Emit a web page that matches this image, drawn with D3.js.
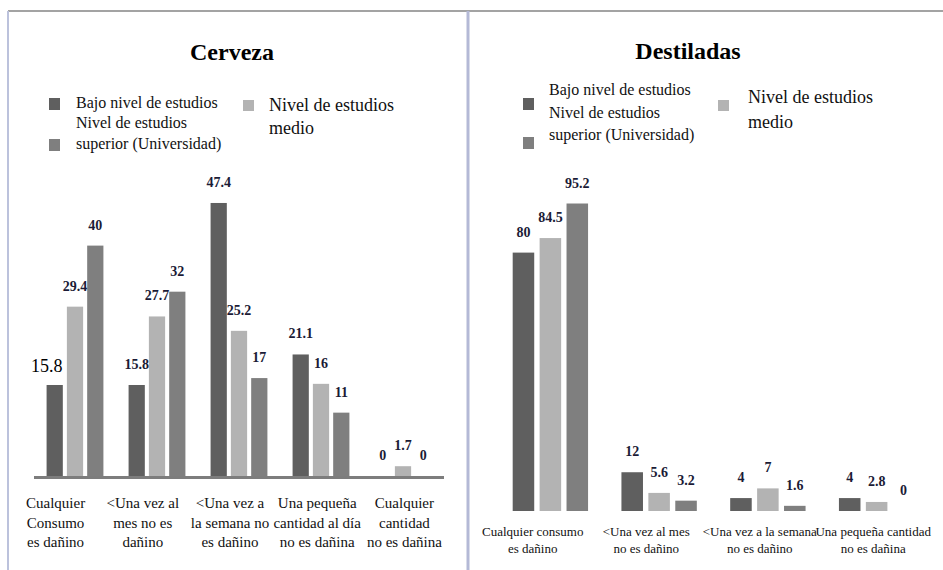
<!DOCTYPE html>
<html>
<head>
<meta charset="utf-8">
<script src="https://cdn.jsdelivr.net/npm/d3@7"></script>
<style>
  html, body { margin: 0; padding: 0; background: #ffffff; }
  svg { display: block; }
  svg text { font-family: "Liberation Serif", "Tinos", "Times New Roman"; }
</style>
</head>
<body>
<svg id="chart" width="943" height="570"></svg>
<script>
// ---------- DATA ----------
const seriesNames = ["Bajo nivel de estudios", "Nivel de estudios medio", "Nivel de estudios superior (Universidad)"];
const seriesColors = ["#5f5f5f", "#b3b3b3", "#7f7f7f"];

const cervezaCategories = [
  ["Cualquier", "Consumo", "es dañino"],
  ["<Una vez al", "mes no es", "dañino"],
  ["<Una vez a", "la semana no", "es dañino"],
  ["Una pequeña", "cantidad al día", "no es dañina"],
  ["Cualquier", "cantidad", "no es dañina"]
];
const cervezaBajo = [15.8, 15.8, 47.4, 21.1, 0];
const cervezaMedio = [29.4, 27.7, 25.2, 16, 1.7];
const cervezaSuperior = [40, 32, 17, 11, 0];

const destiladasCategories = [
  ["Cualquier consumo", "es dañino"],
  ["<Una vez al mes", "no es dañino"],
  ["<Una vez a la semana", "no es dañino"],
  ["Una pequeña cantidad", "no es dañina"]
];
const destiladasBajo = [80, 12, 4, 4];
const destiladasMedio = [84.5, 5.6, 7, 2.8];
const destiladasSuperior = [95.2, 3.2, 1.6, 0];

const legendLeftLines = ["Bajo nivel de estudios", "Nivel de estudios", "superior (Universidad)"];
const legendRightLines = ["Nivel de estudios", "medio"];

// ---------- DRAW ----------
const svg = d3.select("#chart");
const SERIF = '"Liberation Serif", "Tinos", "Times New Roman"';

// panel frame
svg.append("line").attr("x1", 8).attr("x2", 943).attr("y1", 11).attr("y2", 11)
  .attr("stroke", "#a3a3a3").attr("stroke-width", 2);
svg.append("line").attr("x1", 8).attr("x2", 8).attr("y1", 11).attr("y2", 570)
  .attr("stroke", "#bcc2dc").attr("stroke-width", 2);
svg.append("line").attr("x1", 468).attr("x2", 468).attr("y1", 11).attr("y2", 570)
  .attr("stroke", "#b4b9d6").attr("stroke-width", 3);

function panel(opts) {
  const { title, titleX, categories, values, xRange, yMax, yRange, labelRange,
          catFont, catBaseline, catLineH, legend, axis, specialFirst } = opts;
  const g = svg.append("g");
  const idx = d3.range(categories.length);

  const x = d3.scaleBand().domain(idx).range(xRange).padding(0);
  const xs = d3.scaleBand().domain([0, 1, 2]).range([0, x.bandwidth()])
    .paddingInner(0.2).paddingOuter(0.62);
  const y = d3.scaleLinear().domain([0, yMax]).range(yRange);
  const xl = d3.scaleBand().domain(idx).range(labelRange).padding(0);
  const isSpecial = d => specialFirst && d.ci === 0 && d.si === 0;

  // title
  g.append("text").attr("x", titleX).attr("y", opts.titleY)
    .attr("text-anchor", "middle")
    .style("font-family", SERIF).style("font-weight", "bold").style("font-size", "24px")
    .attr("fill", "#000")
    .text(title);

  // legend
  const L = legend;
  g.append("rect").attr("x", L.sx).attr("y", L.s0y).attr("width", 11).attr("height", 12).attr("fill", seriesColors[0]);
  g.append("rect").attr("x", L.sx).attr("y", L.s2y).attr("width", 11).attr("height", 12).attr("fill", seriesColors[2]);
  g.append("rect").attr("x", L.s1x).attr("y", L.s1y).attr("width", 11).attr("height", 11).attr("fill", seriesColors[1]);
  legendLeftLines.forEach((t, i) => {
    g.append("text").attr("x", L.tx).attr("y", L.ty[i])
      .style("font-family", SERIF).style("font-size", "16px").attr("fill", "#111").text(t);
  });
  legendRightLines.forEach((t, i) => {
    g.append("text").attr("x", L.t1x).attr("y", L.t1y[i])
      .style("font-family", SERIF).style("font-size", "18px").attr("fill", "#111").text(t);
  });

  // bars
  const data = [];
  idx.forEach(ci => values.forEach((arr, si) => data.push({ ci, si, v: arr[ci] })));
  g.selectAll("rect.bar").data(data).enter().append("rect")
    .attr("class", "bar")
    .attr("x", d => x(d.ci) + xs(d.si))
    .attr("y", d => y(d.v))
    .attr("width", xs.bandwidth())
    .attr("height", d => y(0) - y(d.v))
    .attr("fill", d => seriesColors[d.si]);

  // value labels
  g.selectAll("text.val").data(data).enter().append("text")
    .attr("class", "val")
    .attr("x", d => x(d.ci) + xs(d.si) + xs.bandwidth() / 2 + (isSpecial(d) ? -8 : 0))
    .attr("y", d => y(d.v) - (isSpecial(d) ? 13 : 16))
    .attr("text-anchor", "middle")
    .style("font-family", SERIF)
    .style("font-weight", d => isSpecial(d) ? "normal" : "bold")
    .style("font-size", d => isSpecial(d) ? "18px" : "14px")
    .attr("fill", d => isSpecial(d) ? "#000" : "#1b1b36")
    .text(d => d.v);

  // axis line
  if (axis) {
    g.append("line").attr("x1", xRange[0]).attr("x2", xRange[1])
      .attr("y1", y(0) + 1.5).attr("y2", y(0) + 1.5)
      .attr("stroke", "#7d7d7d").attr("stroke-width", 3);
  }

  // category labels
  const cl = g.selectAll("text.cat").data(categories).enter().append("text")
    .attr("class", "cat")
    .attr("text-anchor", "middle")
    .style("font-family", SERIF).style("font-size", catFont + "px").attr("fill", "#111");
  cl.each(function (lines, i) {
    const t = d3.select(this);
    lines.forEach((ln, j) => {
      t.append("tspan").attr("x", xl(i) + xl.bandwidth() / 2)
        .attr("y", catBaseline + j * catLineH).text(ln);
    });
  });
}

panel({
  title: "Cerveza", titleX: 232, titleY: 60,
  categories: cervezaCategories,
  values: [cervezaBajo, cervezaMedio, cervezaSuperior],
  xRange: [34, 444], yMax: 50, yRange: [476, 188],
  labelRange: [12, 448], catFont: 15, catBaseline: 508, catLineH: 19.5,
  axis: true, specialFirst: true,
  legend: { sx: 49, s0y: 98, s2y: 139, s1x: 243, s1y: 100,
            tx: 76, ty: [108, 128, 149], t1x: 269, t1y: [111, 134] }
});

panel({
  title: "Destiladas", titleX: 688, titleY: 59,
  categories: destiladasCategories,
  values: [destiladasBajo, destiladasMedio, destiladasSuperior],
  xRange: [496, 931], yMax: 100, yRange: [511, 188],
  labelRange: [476, 930], catFont: 13, catBaseline: 536, catLineH: 17,
  axis: false, specialFirst: false,
  legend: { sx: 523, s0y: 98, s2y: 137, s1x: 718, s1y: 100,
            tx: 549, ty: [95, 118, 140], t1x: 748, t1y: [103, 128] }
});
</script>
</body>
</html>
